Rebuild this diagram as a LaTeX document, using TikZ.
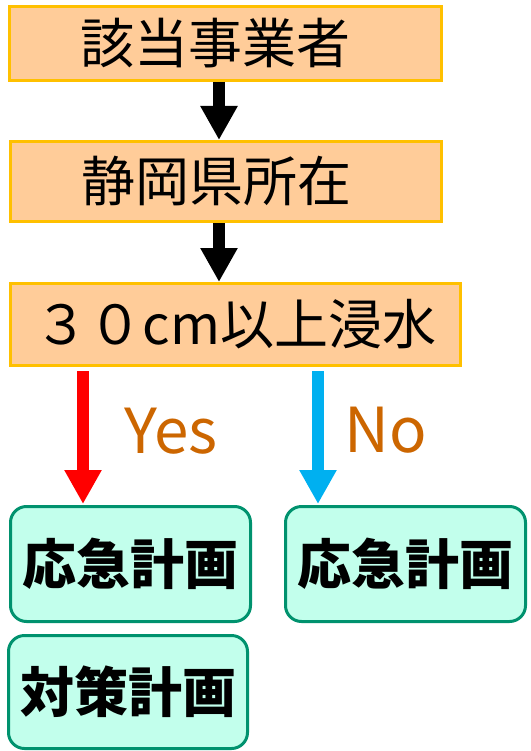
\documentclass[tikz,border=0pt]{standalone}
\usepackage{fontspec}
\usepackage{tikz}
\usetikzlibrary{positioning, arrows.meta}
\newfontfamily\jpfont{Noto Sans CJK JP}

\definecolor{boxorange}{RGB}{255,192,0}
\definecolor{boxpeach}{RGB}{255,204,153}
\definecolor{planline}{RGB}{0,146,110}
\definecolor{planfill}{RGB}{194,255,236}
\definecolor{answerbrown}{RGB}{204,102,0}
\definecolor{noblue}{RGB}{0,176,240}

\begin{document}
\begin{tikzpicture}[x=1pt, y=-1pt,
    stepbox/.style={draw=boxorange, fill=boxpeach, line width=3pt, inner sep=0pt,
      font=\jpfont\fontsize{54}{60}\selectfont},
    planbox/.style={draw=planline, fill=planfill, line width=3pt, rounded corners=16pt,
      inner sep=0pt, minimum width=240pt, minimum height=115pt,
      font=\jpfont\bfseries\fontsize{54}{60}\selectfont},
    flowarrow/.style={line width=12pt, -{Triangle[width=35pt, length=34pt]}},
    answer/.style={text=answerbrown, font=\jpfont\fontsize{62}{66}\selectfont}]
    \useasboundingbox (0,0) rectangle (530,751);

    % Conditions
    \node[stepbox, minimum width=432pt, minimum height=74pt] (target) at (225.5,43.5) {該当事業者\hspace{20pt}\mbox{}};
    \node[stepbox, minimum width=431pt, minimum height=80pt] (shizuoka) at (226,181.5) {静岡県所在\hspace{20pt}\mbox{}};
    \node[stepbox, minimum width=450pt, minimum height=82pt] (flood) at (235.5,324.5) {３０cm以上浸水};

    % Plans
    \node[planbox] (yesplan) at (130.5,564) {応急計画};
    \node[planbox] (noplan) at (405.5,564) {応急計画};
    \node[planbox, minimum width=239pt, minimum height=113pt] (measure) at (128,692) {対策計画};

    % Draw arrows between the boxes
    \draw[flowarrow, black] ([xshift=-6.5pt]target.south) -- ([xshift=-7pt]shizuoka.north);
    \draw[flowarrow, black] ([xshift=-7pt]shizuoka.south) -- ([xshift=-16.5pt]flood.north);
    \draw[flowarrow, red] ([xshift=-152.5pt, yshift=-4pt]flood.south) -- ([xshift=-47.5pt, yshift=1pt]yesplan.north);
    \draw[flowarrow, noblue] ([xshift=82.5pt, yshift=-4pt]flood.south) -- ([xshift=-87.5pt, yshift=1pt]noplan.north);

    % Answers
    \node[answer] (yes) at (171,431) {Yes};
    \node[answer] (no) at (386,430) {No};
\end{tikzpicture}
\end{document}
